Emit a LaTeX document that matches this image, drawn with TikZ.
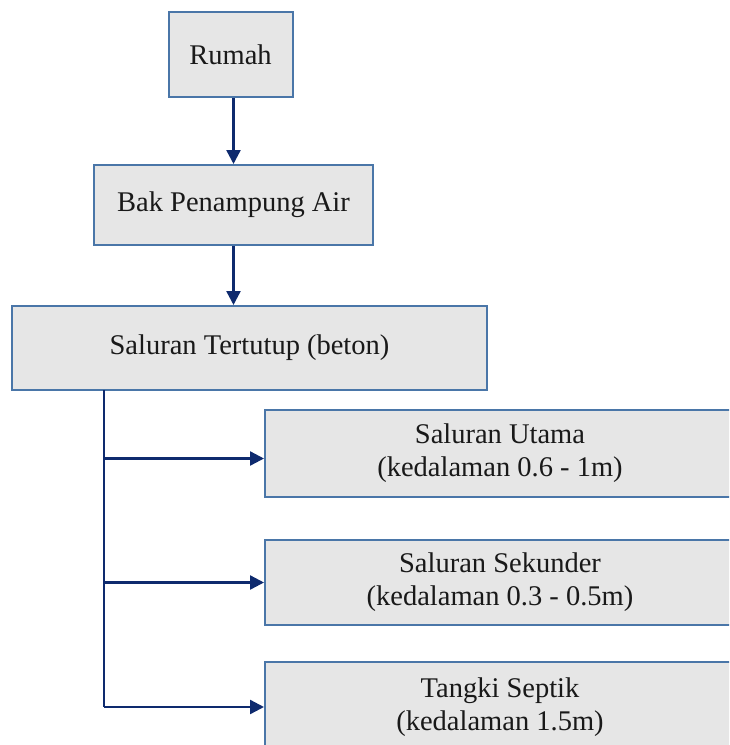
\documentclass[tikz,border=0pt]{standalone}
\usepackage{fontspec}
\setmainfont{Liberation Serif}
\usetikzlibrary{arrows.meta}

\definecolor{boxline}{HTML}{4A76A8}
\definecolor{boxfill}{HTML}{E6E6E6}
\definecolor{arrline}{HTML}{0E2A6E}

\begin{document}
\begin{tikzpicture}[x=1pt, y=-1pt,
    kotak/.style={draw=boxline, fill=boxfill, line width=2pt, align=center,
        inner sep=0pt, text=black!90, font=\fontsize{28.5}{33}\selectfont},
    garis/.style={draw=arrline, line width=2.4pt},
    panah/.style={garis, -{Triangle[length=14pt, width=14pt]}}]
    \useasboundingbox (0,0) rectangle (729,745);
    \clip (0,0) rectangle (729,745);
    % kotak
    \node[kotak, minimum width=124pt, minimum height=85pt] (rumah) at (230.5,54.5) {Rumah};
    \node[kotak, minimum width=279pt, minimum height=80pt] (bak) at (233.5,205) {Bak Penampung Air};
    \node[kotak, minimum width=475pt, minimum height=84pt] (tertutup) at (249.5,348) {Saluran Tertutup (beton)};
    \node[kotak, minimum width=470pt, minimum height=87pt] (utama) at (500,453.5) {Saluran Utama\\(kedalaman 0.6 - 1m)};
    \node[kotak, minimum width=470pt, minimum height=85pt] (sekunder) at (500,582.5) {Saluran Sekunder\\(kedalaman 0.3 - 0.5m)};
    \node[kotak, minimum width=470pt, minimum height=90pt] (tangki) at (500,707) {Tangki Septik\\(kedalaman 1.5m)};
    % panah
    \draw[panah] (bak.north |- rumah.south) -- (bak.north);
    \draw[panah] (bak.south) -- (bak.south |- tertutup.north);
    \coordinate (cabang) at (104,390); % batang
    \draw[garis] (cabang) -- (cabang |- tangki.west);
    \draw[panah] ([yshift=-5pt]cabang |- utama.west) -- ([yshift=-5pt]utama.west);
    \draw[panah] (cabang |- sekunder.west) -- (sekunder.west);
    \draw[panah] (cabang |- tangki.west) -- (tangki.west);
\end{tikzpicture}
\end{document}
